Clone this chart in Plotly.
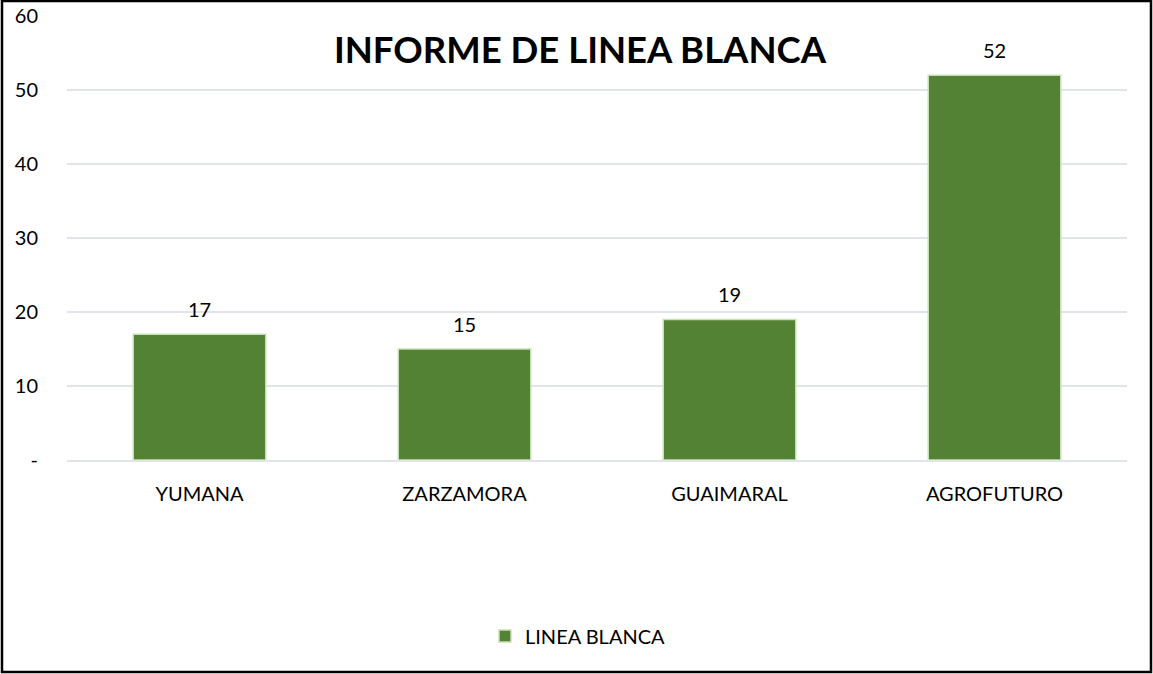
import plotly.graph_objects as go

categories = ["YUMANA", "ZARZAMORA", "GUAIMARAL", "AGROFUTURO"]
values = [17, 15, 19, 52]
series_name = "LINEA BLANCA"
title_text = "INFORME DE LINEA BLANCA"
y_tickvals = [0, 10, 20, 30, 40, 50, 60]
y_ticktext = ["-", "10", "20", "30", "40", "50", "60"]

W, H = 1153, 674
L, R, T, B = 67, 26, 16, 214
pw = W - L - R
ph = H - T - B

FONT = "Lato, Carlito, Calibri, sans-serif"
FS = 20

fig = go.Figure()
fig.add_trace(go.Bar(
    x=categories, y=values, name=series_name,
    marker=dict(color="#548235", line=dict(color="#C5E0B4", width=1.5)),
))

for c, v in zip(categories, values):
    fig.add_annotation(x=c, y=v, text=str(v), showarrow=False,
                       yanchor="bottom", yshift=11,
                       font=dict(size=FS, color="#000000", family=FONT))

fig.update_layout(
    width=W, height=H,
    margin=dict(l=L, r=R, t=T, b=B, autoexpand=False),
    paper_bgcolor="white", plot_bgcolor="white",
    bargap=0.5,
    showlegend=True,
    legend=dict(orientation="h", x=(578 - L) / pw, xanchor="center",
                y=(T + ph - 636) / ph, yanchor="middle",
                font=dict(size=FS, color="#000000", family=FONT),
                itemwidth=30, bgcolor="rgba(0,0,0,0)"),
    title=dict(text="<b>" + title_text + "</b>", x=580 / W, xanchor="center",
               y=1 - 50 / H, yanchor="middle", yref="container",
               font=dict(size=36.5, color="#000000", family=FONT)),
    font=dict(family=FONT, size=FS, color="#000000"),
)
fig.update_yaxes(range=[0, 60], tickvals=y_tickvals, ticktext=y_ticktext,
                 showgrid=True, gridcolor="#E1E4EA", gridwidth=1.5,
                 zeroline=False, ticks="", ticklabelstandoff=28, automargin=False,
                 tickfont=dict(size=FS, color="#000000", family=FONT))
fig.update_xaxes(showgrid=False, showline=True, linecolor="#E1E4EA", linewidth=1.5,
                 ticks="", ticklabelstandoff=15, automargin=False,
                 tickfont=dict(size=FS, color="#000000", family=FONT))

fig.add_shape(type="rect", xref="paper", yref="paper",
              x0=(2 - L) / pw, x1=(1151 - L) / pw,
              y0=(T + ph - 672) / ph, y1=(T + ph - 1) / ph,
              line=dict(color="#000000", width=2.5), fillcolor="rgba(0,0,0,0)",
              layer="above")

fig.write_html("out.html", config={"displayModeBar": False},
               post_script="document.body.style.margin='0';document.body.style.overflow='hidden';document.documentElement.style.overflow='hidden';")
